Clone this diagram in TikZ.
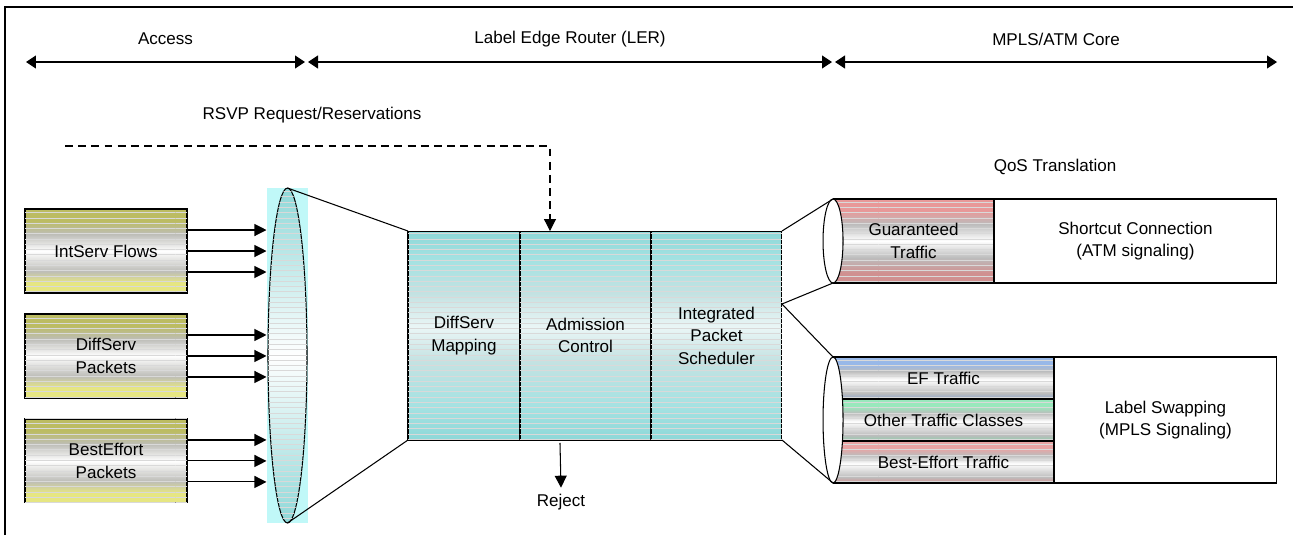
\documentclass[tikz,border=0pt]{standalone}
\usepackage{fontspec}
\setmainfont{Liberation Sans}
\usepackage{tikz}
\usetikzlibrary{arrows.meta,positioning,shapes.geometric,patterns}

\definecolor{kTop}{HTML}{BCBC62}
\definecolor{kMid}{HTML}{C4C498}
\definecolor{kGrey}{HTML}{BDBDB8}
\definecolor{kBot}{HTML}{E6E682}
\definecolor{cTop}{HTML}{8ED8D8}
\definecolor{cMid}{HTML}{A4E2E2}
\definecolor{cGrey}{HTML}{C4E2E2}
\definecolor{cLight}{HTML}{EAF6F6}
\definecolor{lensbg}{HTML}{C0F8F8}
\definecolor{pTop}{HTML}{E89898}
\definecolor{pBot}{HTML}{D09090}
\definecolor{bTop}{HTML}{98B8E8}
\definecolor{bBot}{HTML}{90A8D0}
\definecolor{gTop}{HTML}{98E8BC}
\definecolor{gBot}{HTML}{90D0AC}
\definecolor{rTop}{HTML}{E8A4A4}
\definecolor{rBot}{HTML}{D89494}
\definecolor{midgrey}{HTML}{BCBCBC}

% striped fills (middle 25bp--75bp covers the node)
\pgfdeclareverticalshading{khakiband}{100bp}{color(0bp)=(kBot); color(25bp)=(kBot);
  color(31bp)=(kBot); color(38bp)=(kGrey); color(50bp)=(white); color(60bp)=(kGrey);
  color(68bp)=(kTop); color(75bp)=(kTop); color(100bp)=(kTop)}
\pgfdeclareverticalshading{cyanband}{100bp}{color(0bp)=(cTop); color(25bp)=(cTop);
  color(33bp)=(cMid); color(44bp)=(cGrey); color(52bp)=(cLight); color(60bp)=(cGrey);
  color(68bp)=(cMid); color(75bp)=(cTop); color(100bp)=(cTop)}
\pgfdeclareverticalshading{lensband}{100bp}{color(0bp)=(cTop); color(25bp)=(cTop);
  color(50bp)=(white); color(75bp)=(cTop); color(100bp)=(cTop)}
\pgfdeclareverticalshading{pinkband}{100bp}{color(0bp)=(pBot); color(25bp)=(pBot);
  color(31bp)=(pBot); color(40bp)=(midgrey); color(50bp)=(white); color(60bp)=(midgrey);
  color(68bp)=(pTop); color(75bp)=(pTop); color(100bp)=(pTop)}
\pgfdeclareverticalshading{blueband}{100bp}{color(0bp)=(bBot); color(25bp)=(bBot);
  color(32bp)=(midgrey); color(48bp)=(white); color(58bp)=(midgrey); color(66bp)=(bTop); color(100bp)=(bTop)}
\pgfdeclareverticalshading{greenband}{100bp}{color(0bp)=(gBot); color(25bp)=(gBot);
  color(32bp)=(midgrey); color(48bp)=(white); color(58bp)=(midgrey); color(66bp)=(gTop); color(100bp)=(gTop)}
\pgfdeclareverticalshading{redband}{100bp}{color(0bp)=(rBot); color(25bp)=(rBot);
  color(32bp)=(midgrey); color(48bp)=(white); color(58bp)=(midgrey); color(66bp)=(rTop); color(100bp)=(rTop)}

\tikzset{
  every node/.style={font=\fontsize{9.7}{12.8}\selectfont, align=center},
  stripes/.style={postaction={pattern=horizontal lines, pattern color=white!85!black}},
  srcbox/.style={rectangle, draw, shading=khakiband, stripes,
    minimum width=3.24cm, minimum height=1.68cm, inner sep=0pt, outer sep=0pt},
  stagebox/.style={rectangle, draw, shading=cyanband, stripes,
    minimum height=4.18cm, inner sep=0pt, outer sep=0pt},
  trafficbox/.style={rectangle, draw, shading=#1, stripes,
    inner sep=0pt, outer sep=0pt},
  trafficbox/.default=pinkband,
  pathbox/.style={rectangle, draw, fill=white, inner sep=0pt, outer sep=0pt},
  cylend/.style={ellipse, draw, fill=white, minimum width=0.4cm,
    inner sep=0pt, outer sep=0pt},
  flow/.style={-{Triangle[length=2.4mm, width=2.4mm]}},
  span/.style={{Triangle[length=2mm, width=2.6mm]}-{Triangle[length=2mm, width=2.6mm]}},
}

\begin{document}
\begin{tikzpicture}[x=0.02cm, y=-0.02cm, line width=0.6pt]
    \useasboundingbox (0,0) rectangle (1293,535);
    \draw (5,535) -- (5,7) -- (1293,7);

    % Domain spans
    \coordinate (accL) at (26,62);   \coordinate (accR) at (305,62);
    \coordinate (lerL) at (308,62);  \coordinate (lerR) at (832,62);
    \coordinate (coreL) at (835,62); \coordinate (coreR) at (1277,62);
    \draw[span] (accL) -- (accR) node[midway, yshift=0.46cm] (access) {Access};
    \draw[span] (lerL) -- (lerR) node[midway, yshift=0.46cm] (ler) {Label Edge Router (LER)};
    \draw[span] (coreL) -- (coreR) node[midway, yshift=0.46cm] (core) {MPLS/ATM Core};

    \node (rsvp) at (312,115) {RSVP Request/Reservations};
    \node (qos) at (1055,167) {QoS Translation};

    % Access side traffic sources
    \node[srcbox] (ints) at (106,251) {IntServ Flows};
    \node[srcbox, below=0.42cm of ints] (diffs) {DiffServ\\Packets};
    \node[srcbox, below=0.42cm of diffs] (beff) {BestEffort\\Packets};

    % Aggregation lens
    \node[rectangle, fill=lensbg, minimum width=0.82cm, minimum height=6.72cm,
          inner sep=0pt] (lens) at (287.5,355.5) {};
    \node[ellipse, draw, shading=lensband, stripes, minimum width=0.78cm,
          minimum height=6.7cm, inner sep=0pt, outer sep=0pt] (funnel) at (287.5,355.5) {};

    \foreach \src in {ints,diffs,beff}
      \foreach \dy in {0.42,0,-0.42} {
        \path ([yshift=\dy cm]\src.east) coordinate (tail);
        \draw[flow] (tail) -- (tail -| lens.west);
      }

    % LER stages
    \node[stagebox, minimum width=2.24cm] (map) at (464,335.5) {DiffServ\\Mapping};
    \node[stagebox, minimum width=2.62cm, right=0pt of map] (adm) {Admission\\Control};
    \node[stagebox, minimum width=2.62cm, right=0pt of adm] (sched) {Integrated\\Packet\\Scheduler};

    \draw (funnel.north) -- (map.north west);
    \draw (funnel.south) -- (map.south west);

    % RSVP signalling and reject
    \coordinate (rsvp0) at (65,146);
    \draw[flow, dash pattern=on 4.5pt off 3pt] (rsvp0) -| ([xshift=-0.71cm]adm.north);
    \node (reject) at (561,502) {Reject};
    \draw[flow] ([xshift=-0.51cm, yshift=-0.06cm]adm.south) -- (reject.north);

    % Core: shortcut path
    \node[trafficbox=pinkband, minimum width=3.22cm, minimum height=1.68cm] (guar) at (913.5,241) {Guaranteed\\Traffic};
    \node[pathbox, minimum width=5.66cm, minimum height=1.68cm, right=0pt of guar] (shortcut) {Shortcut Connection\\(ATM signaling)};
    \node[cylend, minimum height=1.68cm] (capA) at (guar.west) {};

    % Core: label swapped path
    \node[trafficbox=blueband, minimum width=4.42cm, minimum height=0.84cm] (ef) at (943.5,378) {EF Traffic};
    \node[trafficbox=greenband, minimum width=4.42cm, minimum height=0.84cm, below=0pt of ef] (other) {Other Traffic Classes};
    \node[trafficbox=redband, minimum width=4.42cm, minimum height=0.84cm, below=0pt of other] (beft) {Best-Effort Traffic};
    \node[pathbox, minimum width=4.46cm, minimum height=2.52cm, right=0pt of other] (swap) {Label Swapping\\(MPLS Signaling)};
    \node[cylend, minimum height=2.52cm] (capB) at (other.west) {};

    \coordinate (split) at ([yshift=0.63cm]sched.east);
    \draw (sched.north east) -- (capA.north);
    \draw (split) -- (capA.south);
    \draw (split) -- (capB.north);
    \draw (sched.south east) -- (capB.south);
\end{tikzpicture}
\end{document}
